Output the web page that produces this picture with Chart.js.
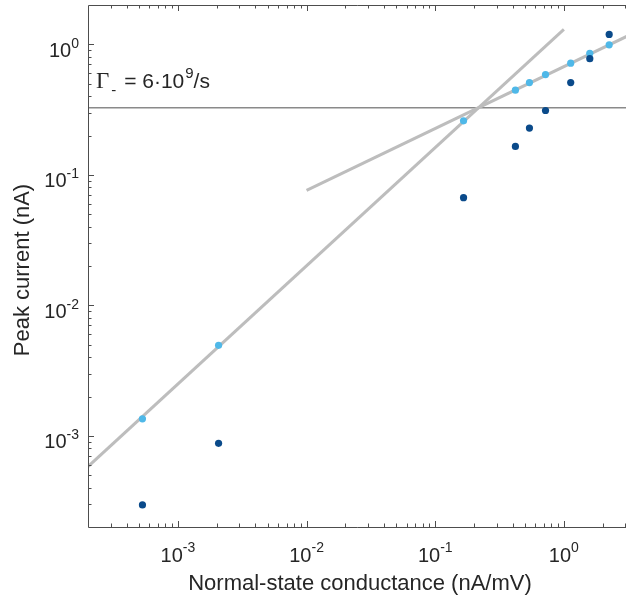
<!DOCTYPE html>
<html>
<head>
<meta charset="utf-8">
<script src="https://cdn.jsdelivr.net/npm/chart.js@4/dist/chart.umd.min.js"></script>
<style>
html,body{margin:0;padding:0;background:#fff;}
#wrap{width:626px;height:600px;position:relative;}
</style>
</head>
<body>
<div id="wrap"><canvas id="c" width="626" height="600"></canvas></div>
<script>
// ---- data ----
const conductance = [5.3e-4, 2.07e-3, 0.166, 0.42, 0.54, 0.72, 1.13, 1.59, 2.25];
const peakLight   = [1.35e-3, 4.93e-3, 0.259, 0.445, 0.509, 0.586, 0.716, 0.853, 0.99];
const peakDark    = [2.95e-4, 8.75e-4, 0.0668, 0.165, 0.228, 0.311, 0.509, 0.776, 1.19];
const fitSteepX   = [2e-4, 1.0];
const fitSteepY   = [5.8e-4, 1.30];
const fitShallowX = [0.01, 3.2];
const fitShallowY = [0.076, 1.17];
const thresholdY  = 0.327;
const xTickExp = [-3, -2, -1, 0];
const yTickExp = [-3, -2, -1, 0];
const xRange = [2e-4, 3.04];
const yRange = [2e-4, 2.0];
const xTitle = 'Normal-state conductance (nA/mV)';
const yTitle = 'Peak current (nA)';

const pts = (xs, ys) => xs.map((x, i) => ({x: x, y: ys[i]}));

const AX = '#262626';
const SANS = '"Liberation Sans", Arial, sans-serif';
const SERIF = '"Liberation Serif", "Times New Roman", serif';

const framePlugin = {
  id: 'frame',
  afterDatasetsDraw(chart) {
    const ctx = chart.ctx, a = chart.chartArea;
    const xs = chart.scales.x, ys = chart.scales.y;
    ctx.save();
    ctx.strokeStyle = '#4d4d4d';
    ctx.lineWidth = 1;
    // axis lines (left, bottom, top)
    ctx.beginPath();
    ctx.moveTo(a.left + 0.5, a.top + 0.5);
    ctx.lineTo(a.left + 0.5, a.bottom + 0.5);
    ctx.lineTo(a.right, a.bottom + 0.5);
    ctx.moveTo(a.left + 0.5, a.top + 0.5);
    ctx.lineTo(a.right, a.top + 0.5);
    ctx.stroke();
    // ticks inward
    ctx.beginPath();
    for (let e = -4; e <= 1; e++) {
      for (let m = 1; m <= 9; m++) {
        const v = m * Math.pow(10, e);
        const len = (m === 1) ? 6 : 3.5;
        if (v > xRange[0] && v < xRange[1]) {
          const px = Math.round(xs.getPixelForValue(v)) + 0.5;
          ctx.moveTo(px, a.bottom); ctx.lineTo(px, a.bottom - len);
          ctx.moveTo(px, a.top); ctx.lineTo(px, a.top + len);
        }
        if (v > yRange[0] && v < yRange[1]) {
          const py = Math.round(ys.getPixelForValue(v)) + 0.5;
          ctx.moveTo(a.left, py); ctx.lineTo(a.left + len, py);
        }
      }
    }
    ctx.stroke();
    // tick labels
    ctx.fillStyle = AX;
    ctx.textBaseline = 'alphabetic';
    xTickExp.forEach(e => {
      const px = xs.getPixelForValue(Math.pow(10, e));
      ctx.font = '20px ' + SANS;
      const w1 = ctx.measureText('10').width;
      ctx.font = '14px ' + SANS;
      const ex = String(e);
      const w2 = ctx.measureText(ex).width;
      const x0 = px - (w1 + w2) / 2;
      ctx.font = '20px ' + SANS;
      ctx.textAlign = 'left';
      ctx.fillText('10', x0, a.bottom + 35);
      ctx.font = '14px ' + SANS;
      ctx.fillText(ex, x0 + w1, a.bottom + 25);
    });
    yTickExp.forEach(e => {
      const py = ys.getPixelForValue(Math.pow(10, e));
      ctx.font = '14px ' + SANS;
      const ex = String(e);
      const w2 = ctx.measureText(ex).width;
      ctx.font = '20px ' + SANS;
      const w1 = ctx.measureText('10').width;
      const xr = a.left - 9;
      ctx.textAlign = 'left';
      ctx.fillText('10', xr - w2 - w1, py + 12.5);
      ctx.font = '14px ' + SANS;
      ctx.fillText(ex, xr - w2, py + 3.5);
    });
    // axis titles
    ctx.font = '22px ' + SANS;
    ctx.textAlign = 'center';
    ctx.fillText(xTitle, (a.left + a.right) / 2 + 3, a.bottom + 63);
    ctx.save();
    ctx.translate(29, (a.top + a.bottom) / 2 + 4);
    ctx.rotate(-Math.PI / 2);
    ctx.fillText(yTitle, 0, 0);
    ctx.restore();
    // annotation
    ctx.textAlign = 'left';
    let x = a.left + 8;
    const base = 88;
    ctx.font = '23px ' + SERIF;
    ctx.fillText('\u0393', x, base);
    x += ctx.measureText('\u0393').width + 2;
    ctx.font = '15px ' + SANS;
    ctx.fillText('-', x, base + 7);
    x += ctx.measureText('-').width + 2;
    ctx.font = '21px ' + SANS;
    ctx.fillText(' = 6\u00B710', x, base);
    x += ctx.measureText(' = 6\u00B710').width + 1;
    ctx.font = '15px ' + SANS;
    ctx.fillText('9', x, base - 10);
    x += ctx.measureText('9').width;
    ctx.font = '21px ' + SANS;
    ctx.fillText('/s', x, base);
    ctx.restore();
  }
};

new Chart(document.getElementById('c'), {
  type: 'scatter',
  data: {
    datasets: [
      { label: 'dark', data: pts(conductance, peakDark), backgroundColor: '#0a4a8a', borderWidth: 0, pointRadius: 3.6, order: 1 },
      { label: 'light', data: pts(conductance, peakLight), backgroundColor: '#4fb8e8', borderWidth: 0, pointRadius: 3.6, order: 2 },
      { label: 'steep', data: pts(fitSteepX, fitSteepY), showLine: true, borderColor: '#bdbdbd', borderWidth: 3, pointRadius: 0, order: 3 },
      { label: 'shallow', data: pts(fitShallowX, fitShallowY), showLine: true, borderColor: '#bdbdbd', borderWidth: 3, pointRadius: 0, order: 4 },
      { label: 'threshold', data: pts(xRange, [thresholdY, thresholdY]), showLine: true, borderColor: '#8a8a8a', borderWidth: 1.5, pointRadius: 0, order: 5 }
    ]
  },
  options: {
    responsive: false,
    animation: false,
    events: [],
    layout: { autoPadding: false, padding: { left: 88, top: 5, right: 0, bottom: 73 } },
    plugins: { legend: { display: false }, tooltip: { enabled: false } },
    scales: {
      x: { type: 'logarithmic', min: xRange[0], max: xRange[1], display: false },
      y: { type: 'logarithmic', min: yRange[0], max: yRange[1], display: false }
    }
  },
  plugins: [framePlugin]
});
</script>
</body>
</html>
